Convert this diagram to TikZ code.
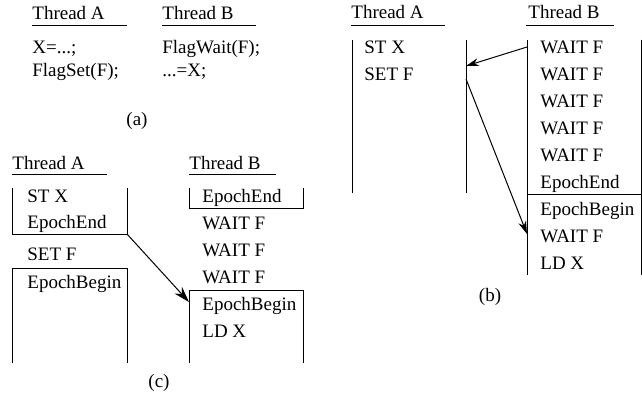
\documentclass[tikz,border=0pt]{standalone}
\usepackage{fontspec}
\setmainfont{Liberation Serif}
\usetikzlibrary{arrows.meta}

\begin{document}
\begin{tikzpicture}[x=1pt, y=-1pt, line width=0.8pt,
		font=\fontsize{19}{22}\selectfont,
		txt/.style={anchor=base west, inner sep=0pt},
		caption/.style={inner sep=0pt},
		msg/.style={line width=1pt, -{Stealth[length=13pt, width=8pt]}}]
		\useasboundingbox (0,0) rectangle (642,396);
		
		% (a)
		\node[txt] (aThA) at (32,20) {Thread A};
		\node[txt] (aThB) at (162,20) {Thread B};
		\draw (32,25) -- (127,25);
		\draw (162,25) -- (256,25);
		\node[txt] (aX) at (32,53) {X=...;};
		\node[txt] (aSet) at (32,77) {FlagSet(F);};
		\node[txt] (aWait) at (162,53) {FlagWait(F);};
		\node[txt] (aLd) at (162,77) {...=X;};
		\node[caption] (aCap) at (137,121) {(a)};
		
		% (b)
		\node[txt] (bThA) at (351,19) {Thread A};
		\node[txt] (bThB) at (528,19) {Thread B};
		\draw (351,25) -- (445,25);
		\draw (526,25) -- (614,25);
		\draw (352,40) -- (352,193);
		\draw (466,40) -- (466,193);
		\node[txt] (bSt) at (364,53) {ST X};
		\node[txt] (bSet) at (364,80) {SET F};
		\draw (527,40) -- (527,275);
		\draw (641,40) -- (641,275);
		\draw (527,194) -- (641,194);
		\node[txt] (bW1) at (540,53) {WAIT F};
		\node[txt] (bW2) at (540,80) {WAIT F};
		\node[txt] (bW3) at (540,107) {WAIT F};
		\node[txt] (bW4) at (540,134) {WAIT F};
		\node[txt] (bW5) at (540,161) {WAIT F};
		\node[txt] (bEnd) at (540,188) {EpochEnd};
		\node[txt] (bBegin) at (540,215) {EpochBegin};
		\node[txt] (bW6) at (540,242) {WAIT F};
		\node[txt] (bLd) at (540,269) {LD X};
		\coordinate (bFrom1) at (527,47);
		\coordinate (bTo1) at (466,66);
		\coordinate (bFrom2) at (466,79);
		\coordinate (bTo2) at (527,234);
		\draw[msg] (bFrom1) -- (bTo1);
		\draw[msg] (bFrom2) -- (bTo2);
		\node[caption] (bCap) at (490,297) {(b)};
		
		% (c)
		\node[txt] (cThA) at (12,169) {Thread A};
		\node[txt] (cThB) at (189,169) {Thread B};
		\draw (12,174) -- (107,174);
		\draw (189,174) -- (276,174);
		\draw (12,188) -- (12,234) -- (127,234) -- (127,188);
		\node[txt] (cSt) at (27,202) {ST X};
		\node[txt] (cEndA) at (27,228) {EpochEnd};
		\node[txt] (cSet) at (27,260) {SET F};
		\draw (12,363) -- (12,268) -- (127,268) -- (127,363);
		\node[txt] (cBeginA) at (27,288) {EpochBegin};
		\draw (189,188) -- (189,208) -- (303,208) -- (303,188);
		\node[txt] (cEndB) at (202,202) {EpochEnd};
		\node[txt] (cW1) at (202,229) {WAIT F};
		\node[txt] (cW2) at (202,256) {WAIT F};
		\node[txt] (cW3) at (202,283) {WAIT F};
		\draw (189,363) -- (189,290) -- (303,290) -- (303,363);
		\node[txt] (cBeginB) at (202,310) {EpochBegin};
		\node[txt] (cLd) at (202,337) {LD X};
		\coordinate (cFrom) at (127,234);
		\coordinate (cTo) at (189,302);
		\draw[msg, -{Stealth[length=16pt, width=10pt]}] (cFrom) -- (cTo);
		\node[caption] (cCap) at (159,383) {(c)};
		
	\end{tikzpicture}
\end{document}
